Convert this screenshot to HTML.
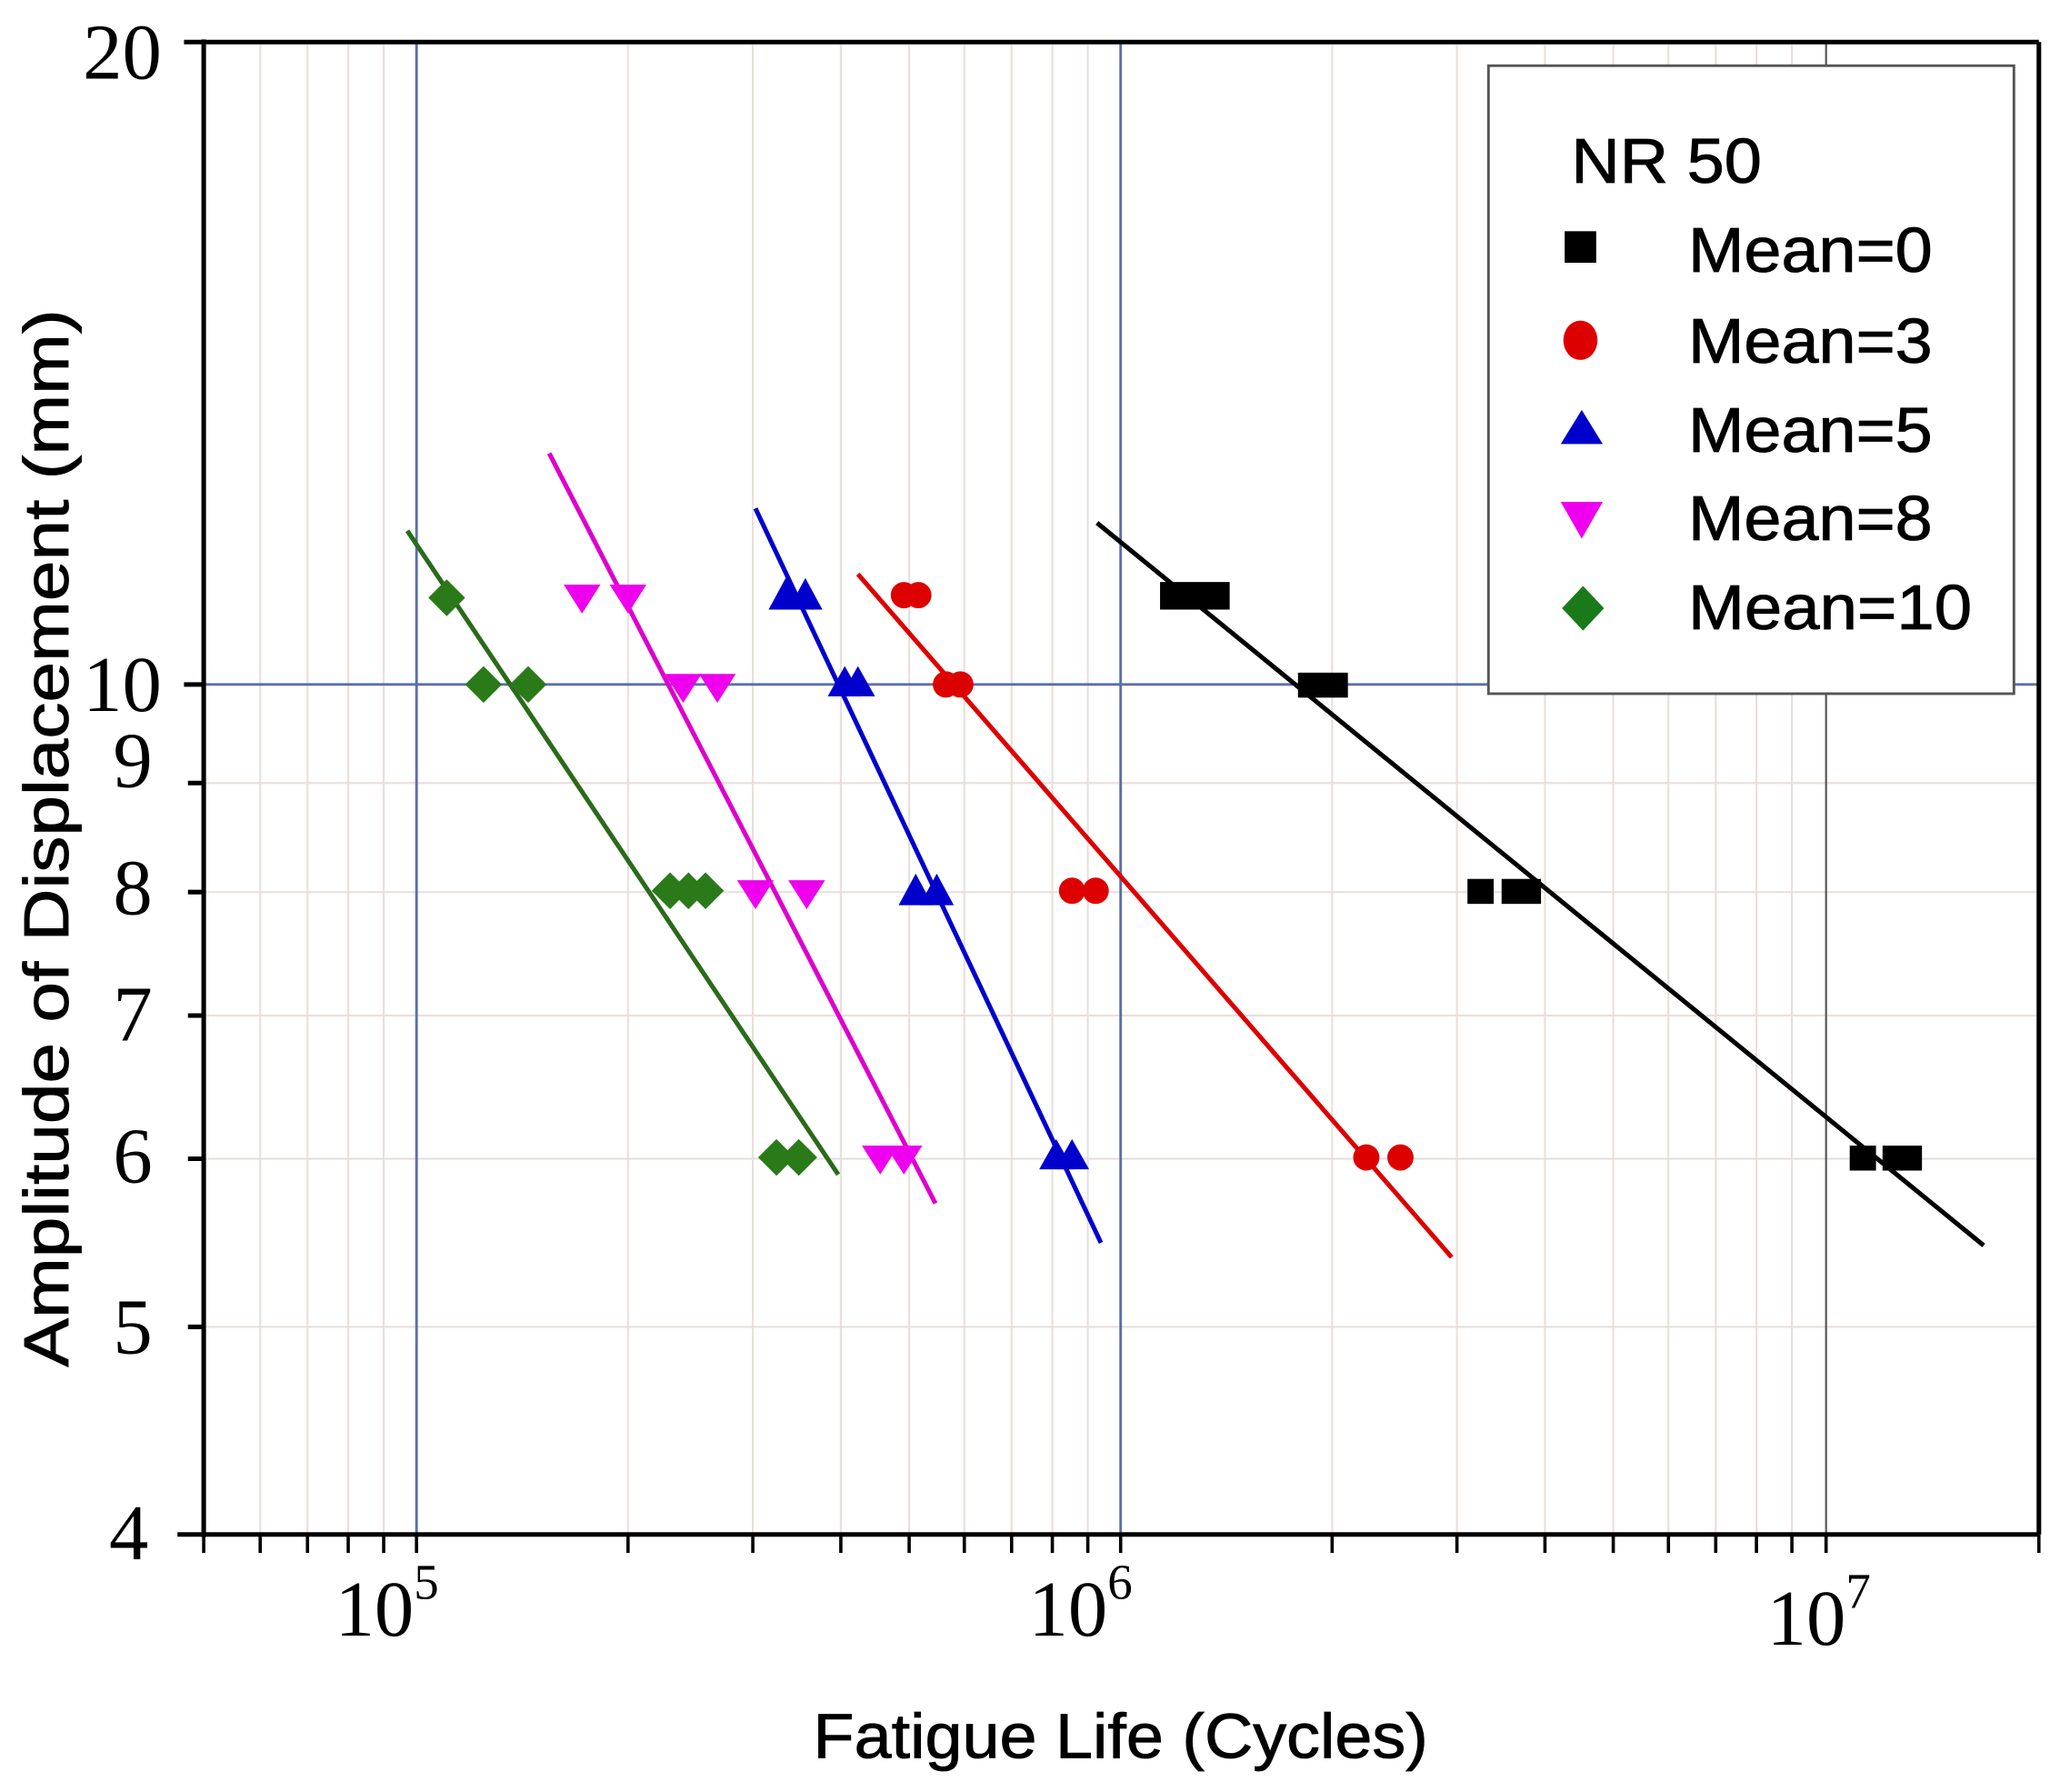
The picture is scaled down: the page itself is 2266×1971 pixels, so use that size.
<!DOCTYPE html>
<html><head><meta charset="utf-8"><style>html,body{margin:0;padding:0;background:#fff}svg{display:block}</style></head>
<body>
<svg width="2266" height="1971" viewBox="0 0 1568 1364" xmlns="http://www.w3.org/2000/svg">
<rect width="1568" height="1364" fill="#fff"/>
<g stroke="#e8e0dc" stroke-width="1.5">
<line x1="198" y1="32" x2="198" y2="1168"/><line x1="234" y1="32" x2="234" y2="1168"/><line x1="265" y1="32" x2="265" y2="1168"/><line x1="292" y1="32" x2="292" y2="1168"/>
<line x1="478" y1="32" x2="478" y2="1168"/><line x1="573" y1="32" x2="573" y2="1168"/><line x1="640" y1="32" x2="640" y2="1168"/><line x1="692" y1="32" x2="692" y2="1168"/><line x1="734" y1="32" x2="734" y2="1168"/><line x1="770" y1="32" x2="770" y2="1168"/><line x1="801" y1="32" x2="801" y2="1168"/><line x1="828" y1="32" x2="828" y2="1168"/>
<line x1="1014" y1="32" x2="1014" y2="1168"/><line x1="1109" y1="32" x2="1109" y2="1168"/><line x1="1176" y1="32" x2="1176" y2="1168"/><line x1="1228" y1="32" x2="1228" y2="1168"/><line x1="1270" y1="32" x2="1270" y2="1168"/><line x1="1306" y1="32" x2="1306" y2="1168"/><line x1="1337" y1="32" x2="1337" y2="1168"/><line x1="1364" y1="32" x2="1364" y2="1168"/>
<line x1="155" y1="596" x2="1552" y2="596"/><line x1="155" y1="679" x2="1552" y2="679"/><line x1="155" y1="773" x2="1552" y2="773"/><line x1="155" y1="882" x2="1552" y2="882"/><line x1="155" y1="1010" x2="1552" y2="1010"/>
</g>
<g stroke="#5a6fa8" stroke-width="2">
<line x1="317" y1="32" x2="317" y2="1168"/><line x1="853" y1="32" x2="853" y2="1168"/><line x1="155" y1="521" x2="1552" y2="521"/>
</g>
<line x1="1390" y1="32" x2="1390" y2="1168" stroke="#555" stroke-width="1.5"/>
<g stroke="#000" stroke-width="3.5">
<line x1="140" y1="32" x2="1552" y2="32"/><line x1="1552" y1="32" x2="1552" y2="1168"/>
<line x1="155" y1="30" x2="155" y2="1170"/><line x1="135" y1="1168" x2="1552" y2="1168"/>
<line x1="140" y1="521" x2="155" y2="521"/><line x1="143" y1="596" x2="155" y2="596"/><line x1="143" y1="679" x2="155" y2="679"/><line x1="143" y1="773" x2="155" y2="773"/><line x1="143" y1="882" x2="155" y2="882"/><line x1="143" y1="1010" x2="155" y2="1010"/>
</g>
<g stroke="#000" stroke-width="2.5">
<line x1="155" y1="1168" x2="155" y2="1182"/><line x1="198" y1="1168" x2="198" y2="1182"/><line x1="234" y1="1168" x2="234" y2="1182"/><line x1="265" y1="1168" x2="265" y2="1182"/><line x1="292" y1="1168" x2="292" y2="1182"/><line x1="317" y1="1168" x2="317" y2="1182"/>
<line x1="478" y1="1168" x2="478" y2="1182"/><line x1="573" y1="1168" x2="573" y2="1182"/><line x1="640" y1="1168" x2="640" y2="1182"/><line x1="692" y1="1168" x2="692" y2="1182"/><line x1="734" y1="1168" x2="734" y2="1182"/><line x1="770" y1="1168" x2="770" y2="1182"/><line x1="801" y1="1168" x2="801" y2="1182"/><line x1="828" y1="1168" x2="828" y2="1182"/><line x1="853" y1="1168" x2="853" y2="1182"/>
<line x1="1014" y1="1168" x2="1014" y2="1182"/><line x1="1109" y1="1168" x2="1109" y2="1182"/><line x1="1176" y1="1168" x2="1176" y2="1182"/><line x1="1228" y1="1168" x2="1228" y2="1182"/><line x1="1270" y1="1168" x2="1270" y2="1182"/><line x1="1306" y1="1168" x2="1306" y2="1182"/><line x1="1337" y1="1168" x2="1337" y2="1182"/><line x1="1364" y1="1168" x2="1364" y2="1182"/><line x1="1390" y1="1168" x2="1390" y2="1182"/><line x1="1552" y1="1168" x2="1552" y2="1182"/>
</g>
<g font-family="Liberation Serif, serif" font-size="60" fill="#000" text-anchor="end">
<text x="123" y="60">20</text><text x="123" y="541">10</text><text x="116" y="599">9</text><text x="116" y="696">8</text><text x="116" y="792">7</text><text x="116" y="900">6</text><text x="116" y="1030">5</text><text x="113" y="1187">4</text>
</g>
<g font-family="Liberation Serif, serif" font-size="60" fill="#000">
<text x="255" y="1245">10<tspan font-size="38" dy="-28">5</tspan></text>
<text x="783" y="1245">10<tspan font-size="38" dy="-28">6</tspan></text>
<text x="1345" y="1252">10<tspan font-size="38" dy="-28">7</tspan></text>
</g>
<text x="853" y="1338" font-family="Liberation Sans, sans-serif" font-size="48" text-anchor="middle" textLength="468" lengthAdjust="spacingAndGlyphs" stroke="#000" stroke-width="0.6">Fatigue Life (Cycles)</text>
<text transform="translate(52,638) rotate(-90)" font-family="Liberation Sans, sans-serif" font-size="48" text-anchor="middle" textLength="805" lengthAdjust="spacingAndGlyphs" stroke="#000" stroke-width="0.6">Amplitude of Displacement (mm)</text>
<rect x="1133" y="50" width="400" height="478" fill="#fff" stroke="#555" stroke-width="2"/>
<g font-family="Liberation Sans, sans-serif" font-size="48" fill="#000" stroke="#000" stroke-width="0.6" lengthAdjust="spacingAndGlyphs">
<text x="1196" y="139" textLength="145" lengthAdjust="spacingAndGlyphs">NR 50</text>
<text x="1285" y="207" textLength="186" lengthAdjust="spacingAndGlyphs">Mean=0</text><text x="1285" y="276" textLength="186" lengthAdjust="spacingAndGlyphs">Mean=3</text><text x="1285" y="344" textLength="186" lengthAdjust="spacingAndGlyphs">Mean=5</text><text x="1285" y="411" textLength="186" lengthAdjust="spacingAndGlyphs">Mean=8</text><text x="1285" y="479" textLength="216" lengthAdjust="spacingAndGlyphs">Mean=10</text>
</g>
<rect x="1191" y="176" width="24" height="24" fill="#000"/>
<ellipse cx="1203" cy="259" rx="13" ry="15" fill="#d00"/>
<polygon points="1188,338 1204,312 1220,338" fill="#00c"/>
<polygon points="1188,382 1220,382 1204,410" fill="#e0e"/>
<polygon points="1205,446 1221,463 1205,480 1189,463" fill="#1a7a1a"/>
<g stroke-width="3.5" fill="none">
<line x1="835" y1="398" x2="1510" y2="948" stroke="#000"/>
<line x1="653" y1="437" x2="1105" y2="957" stroke="#d00"/>
<line x1="575" y1="387" x2="838" y2="946" stroke="#00c"/>
<line x1="418" y1="345" x2="712" y2="916" stroke="#d0c"/>
<line x1="310" y1="404" x2="638" y2="894" stroke="#2a6a1a"/>
</g>
<g fill="#000">
<rect x="883" y="443" width="53" height="21"/><rect x="988" y="512" width="38" height="19"/>
<rect x="1117" y="669" width="20" height="19"/><rect x="1143" y="669" width="30" height="19"/>
<rect x="1408" y="872" width="20" height="19"/><rect x="1433" y="872" width="30" height="19"/>
</g>
<g fill="#d00">
<circle cx="688" cy="453" r="10"/><circle cx="699" cy="453" r="10"/>
<circle cx="720" cy="521" r="10"/><circle cx="731" cy="521" r="10"/>
<circle cx="816" cy="678" r="10"/><circle cx="834" cy="678" r="10"/>
<circle cx="1040" cy="881" r="10"/><circle cx="1066" cy="881" r="10"/>
</g>
<g fill="#00c">
<polygon points="585,464 598,440 611,464"/><polygon points="600,464 613,440 626,464"/>
<polygon points="630,530 643,507 656,530"/><polygon points="640,530 653,507 666,530"/>
<polygon points="684,689 697,665 710,689"/><polygon points="700,689 713,665 726,689"/>
<polygon points="791,890 804,867 817,890"/><polygon points="803,890 816,867 829,890"/>
</g>
<g fill="#e0e">
<polygon points="429,445 457,445 443,467"/><polygon points="464,445 492,445 478,467"/>
<polygon points="506,513 534,513 520,535"/><polygon points="532,513 560,513 546,535"/>
<polygon points="561,670 589,670 575,692"/><polygon points="600,670 628,670 614,692"/>
<polygon points="656,872 684,872 670,894"/><polygon points="674,872 702,872 688,894"/>
</g>
<g fill="#2a7a1a">
<polygon points="340,441 354,455 340,469 326,455"/>
<polygon points="368,507 382,521 368,535 354,521"/><polygon points="402,507 416,521 402,535 388,521"/>
<polygon points="510,664 524,678 510,692 496,678"/><polygon points="524,664 538,678 524,692 510,678"/><polygon points="537,664 551,678 537,692 523,678"/>
<polygon points="591,867 605,881 591,895 577,881"/><polygon points="608,867 622,881 608,895 594,881"/>
</g>
</svg>
</body></html>
